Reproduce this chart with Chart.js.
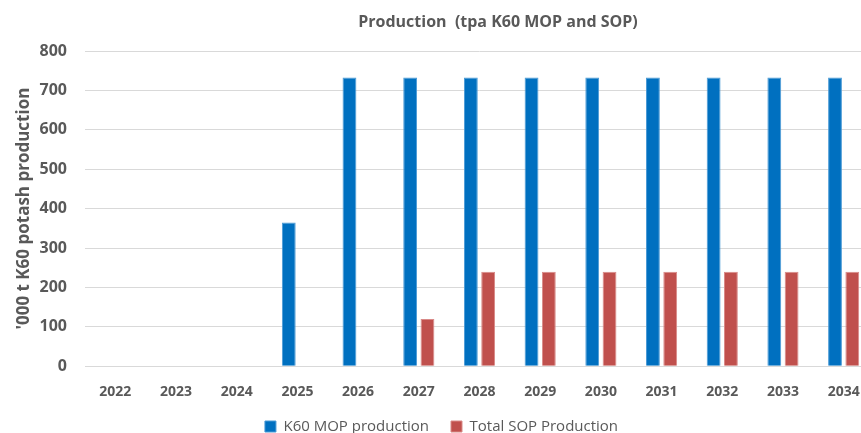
<!DOCTYPE html>
<html>
<head>
<meta charset="utf-8">
<script src="https://cdn.jsdelivr.net/npm/chart.js@4"></script>
<style>
  html, body { margin: 0; padding: 0; background: #fff; overflow: hidden; }
  #wrap { width: 874px; height: 433px; }
</style>
</head>
<body>
<div id="wrap"><canvas id="chart"></canvas></div>
<script>
const years = ['2022', '2023', '2024', '2025', '2026', '2027', '2028', '2029', '2030', '2031', '2032', '2033', '2034'];
const mop = [0, 0, 0, 365, 733, 733, 733, 733, 733, 733, 733, 733, 733];
const sop = [0, 0, 0, 0, 0, 120, 240, 240, 240, 240, 240, 240, 240];
const yTicks = [0, 100, 200, 300, 400, 500, 600, 700, 800];

const grey = '#595959';
const font = '"Open Sans", Lato, sans-serif';

// title is drawn by hand so it sits where the original puts it
const titlePlugin = {
    id: 'titleText',
    afterDraw(chart) {
        const ctx = chart.ctx;
        ctx.save();
        ctx.font = 'bold 16px ' + font;
        ctx.fillStyle = grey;
        ctx.textAlign = 'center';
        ctx.textBaseline = 'middle';
        ctx.fillText('Production  (tpa K60 MOP and SOP)', 498, 22);
        ctx.restore();
    }
};

new Chart(document.getElementById('chart'), {
    type: 'bar',
    data: {
        labels: years,
        datasets: [{
            label: 'K60 MOP production',
            data: mop,
            backgroundColor: '#0070C0',
            borderColor: '#4a9ad6',
            borderWidth: 1,
            categoryPercentage: 0.57,
            barPercentage: 0.8
        }, {
            label: 'Total SOP Production',
            data: sop,
            backgroundColor: '#C0504D',
            borderColor: '#d98a88',
            borderWidth: 1,
            categoryPercentage: 0.57,
            barPercentage: 0.8
        }]
    },
    options: {
        responsive: true,
        maintainAspectRatio: false,
        animation: false,
        layout: {
            padding: { top: 51, right: 0, left: 9, bottom: -11 }
        },
        plugins: {
            legend: {
                position: 'bottom',
                labels: {
                    color: grey,
                    font: { family: font, size: 15 },
                    boxWidth: 11,
                    boxHeight: 11,
                    padding: 22
                }
            },
            tooltip: { enabled: false }
        },
        scales: {
            x: {
                grid: { display: false },
                border: { color: '#d9d9d9' },
                ticks: {
                    color: grey,
                    font: { family: font, size: 14, weight: 'bold' },
                    padding: 9,
                    maxRotation: 0
                },
                afterFit: function(scale) {
                    scale.height -= 12;
                }
            },
            y: {
                min: 0,
                max: 800,
                afterBuildTicks: function(axis) {
                    axis.ticks = yTicks.map(v => ({ value: v }));
                },
                afterFit: function(scale) {
                    scale.width = 76;
                },
                grid: { color: '#d9d9d9', drawTicks: false },
                border: { display: false },
                ticks: {
                    color: grey,
                    font: { family: font, size: 16, weight: 'bold' },
                    padding: 18
                },
                title: {
                    display: true,
                    text: "'000 t K60 potash production",
                    color: grey,
                    font: { family: font, size: 17, weight: 'bold' },
                    padding: 5
                }
            }
        }
    },
    plugins: [titlePlugin]
});
</script>
</body>
</html>
